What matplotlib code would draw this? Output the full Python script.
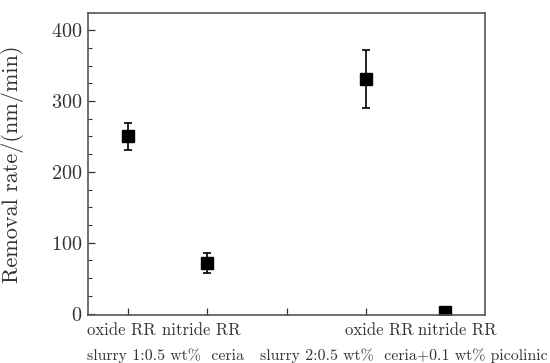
import matplotlib
matplotlib.use("Agg")
import matplotlib.pyplot as plt
from matplotlib.ticker import MultipleLocator

plt.rcParams['font.family'] = ['cmr10', 'DejaVu Serif']
plt.rcParams['axes.formatter.use_mathtext'] = True
plt.rcParams['axes.unicode_minus'] = False

# data
positions = [1, 2, 4, 5]
removal_rate = [250, 72, 331, 3]
rate_error = [19, 14, 41, 0]
top_labels = ["oxide RR", "nitride RR", "oxide RR", "nitride RR"]
top_label_x = [0.92, 1.93, 4.17, 5.15]
slurry_labels = ["slurry 1:0.5 wt%  ceria", "slurry 2:0.5 wt%  ceria+0.1 wt% picolinic"]
slurry_label_x = [0.49, 2.66]

fig = plt.figure(figsize=(5.5, 3.63), dpi=100)
ax = fig.add_axes([0.16, 0.132, 0.722, 0.832])

ax.errorbar(positions, removal_rate, yerr=rate_error, fmt='s', color='black',
            markersize=8, capsize=3, elinewidth=1.2, capthick=1.2)

ax.set_xlim(0.5, 5.5)
ax.set_ylim(-2, 424)
ax.set_xticks([1, 2, 3, 4, 5])
ax.set_xticklabels([])
ax.yaxis.set_major_locator(MultipleLocator(100))
ax.yaxis.set_minor_locator(MultipleLocator(25))
ax.tick_params(direction='in', labelsize=14.5, length=5, width=0.9, colors='#333333',
               labelcolor='#333333', pad=4)
ax.tick_params(which='minor', direction='in', length=3, width=0.8, colors='#333333')
for s in ax.spines.values():
    s.set_color('#555555')
    s.set_linewidth(1.2)

ax.set_ylabel("Removal rate/(nm/min)", fontsize=16, color='#333333')
ax.yaxis.set_label_coords(-0.162, 0.5)

tr = ax.get_xaxis_transform()
for x, t in zip(top_label_x, top_labels):
    ax.text(x, -0.05, t, transform=tr, ha='center', va='center', fontsize=12,
            color='#333333')
for x, t in zip(slurry_label_x, slurry_labels):
    ax.text(x, -0.133, t, transform=tr, ha='left', va='center', fontsize=11.4,
            color='#333333')

fig.savefig("out.png", dpi=100)
